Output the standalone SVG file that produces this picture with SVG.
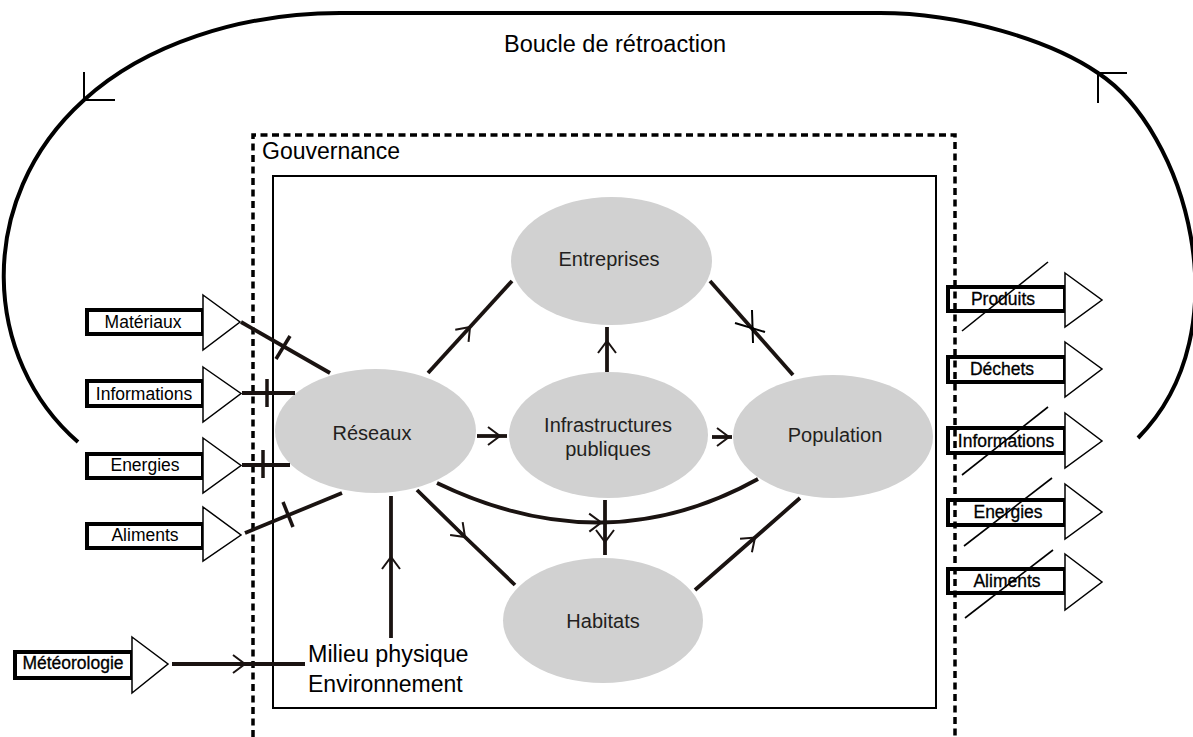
<svg xmlns="http://www.w3.org/2000/svg" width="1193" height="737" viewBox="0 0 1193 737">
<defs>
<style>
.lbl{font-family:"Liberation Sans",Arial,sans-serif;fill:#000}
.node ellipse{fill:#d1d1d1}
.node text{font-family:"Liberation Sans",Arial,sans-serif;font-size:20px;fill:#231f20;text-anchor:middle}
.box rect{fill:#fff;stroke:#000;stroke-width:4}
.box polygon{fill:#fff;stroke:#000;stroke-width:1.5}
.box text{font-family:"Liberation Sans",Arial,sans-serif;font-size:17.5px;fill:#000;text-anchor:middle}
.out text{stroke:#000;stroke-width:0.3}
.con{fill:none;stroke:#1a1311;stroke-width:3.8;stroke-linecap:butt}
.arr{marker-mid:url(#v)}
.tick{stroke:#1a1311;stroke-width:3.5;fill:none}
.slash{stroke:#000;stroke-width:1.6;fill:none}
.thin{stroke:#000;stroke-width:2;fill:none}
</style>
<marker id="v" markerUnits="userSpaceOnUse" viewBox="-16 -12 20 24" refX="0" refY="0" markerWidth="20" markerHeight="24" orient="auto">
<path d="M-12,-9 L0,0 L-12,9" fill="none" stroke="#1a1311" stroke-width="2"/>
</marker>
</defs>

<g id="feedback-loop">
<path d="M78,442 C-17,360 -27,200 84,100 C144,45 240,13 340,13 L880,13 C960,13 1050,40 1098,73 C1185,130 1245,330 1138,438" fill="none" stroke="#000" stroke-width="4"/>
<path class="thin" d="M84,72 L84,100 L115,100"/>
<path class="thin" d="M1127,73 L1098,73 L1098,103"/>
<text class="lbl" x="615" y="52" font-size="23.5" text-anchor="middle">Boucle de rétroaction</text>
</g>

<g id="inputs">
<g id="in-materiaux" class="box"><rect x="87" y="310" width="116" height="24"/><polygon points="203,295 240,322 203,350"/><text x="143" y="328">Matériaux</text></g>
<g id="in-informations" class="box"><rect x="87" y="381" width="116" height="25"/><polygon points="203,367 241,393.5 203,422"/><text x="144" y="400">Informations</text></g>
<g id="in-energies" class="box"><rect x="87" y="454" width="116" height="24"/><polygon points="203,438 241,465.5 203,493"/><text x="145" y="471">Energies</text></g>
<g id="in-aliments" class="box"><rect x="87" y="524" width="116" height="24"/><polygon points="203,507 241,535 203,561"/><text x="145" y="541">Aliments</text></g>
<g id="in-meteo" class="box out"><rect x="15" y="652" width="117" height="26"/><polygon points="132,637 168,664 132,693"/><text x="73" y="669">Météorologie</text></g>
</g>

<g id="outputs">
<g id="out-produits" class="box out"><rect x="948" y="287" width="117" height="24"/><polygon points="1065,273 1102,300 1065,327"/><text x="1003" y="305">Produits</text></g>
<g id="out-dechets" class="box out"><rect x="948" y="357" width="117" height="25"/><polygon points="1065,342 1102,369 1065,397"/><text x="1002" y="375">Déchets</text></g>
<g id="out-informations" class="box out"><rect x="948" y="428" width="117" height="25"/><polygon points="1065,413 1102,441 1065,468"/><text x="1006" y="447">Informations</text></g>
<g id="out-energies" class="box out"><rect x="948" y="500" width="117" height="25"/><polygon points="1065,484 1102,512 1065,539"/><text x="1008" y="518">Energies</text></g>
<g id="out-aliments" class="box out"><rect x="948" y="569" width="117" height="24"/><polygon points="1065,554 1102,582 1065,610"/><text x="1007" y="587">Aliments</text></g>
</g>

<g id="gouvernance">
<path d="M253,737 V135 H955 V737" fill="none" stroke="#000" stroke-width="3.5" stroke-dasharray="7 4.5"/>
<text class="lbl" x="262" y="159" font-size="23">Gouvernance</text>
</g>

<g id="systeme">
<rect x="273" y="176" width="663" height="532" fill="none" stroke="#000" stroke-width="2"/>
</g>

<g id="slashes">
<line class="slash" x1="1048" y1="262" x2="962" y2="331"/>
<line class="slash" x1="1048" y1="407" x2="962" y2="475"/>
<line class="slash" x1="1052" y1="478" x2="964" y2="546"/>
<line class="slash" x1="1053" y1="550" x2="965" y2="618"/>
</g>

<g id="node-entreprises" class="node"><ellipse cx="611.5" cy="261" rx="100.5" ry="64"/><text x="609" y="266">Entreprises</text></g>
<g id="node-reseaux" class="node"><ellipse cx="375.5" cy="431" rx="100.5" ry="62"/><text x="372" y="440">Réseaux</text></g>
<g id="node-infrastructures" class="node"><ellipse cx="608.5" cy="435" rx="99.5" ry="63"/><text x="608" y="432">Infrastructures</text><text x="608" y="456">publiques</text></g>
<g id="node-population" class="node"><ellipse cx="833" cy="436.5" rx="100" ry="61.5"/><text x="835" y="442">Population</text></g>
<g id="node-habitats" class="node"><ellipse cx="603" cy="620.5" rx="100" ry="62.5"/><text x="603" y="628">Habitats</text></g>
<g id="node-milieu"><text class="lbl" x="308" y="662" font-size="23.3">Milieu physique</text><text class="lbl" x="308" y="692" font-size="23">Environnement</text></g>

<g id="connectors">
<path class="con" d="M241,322 L330,373"/>
<line class="tick" x1="276" y1="359" x2="290" y2="336"/>
<path class="con" d="M242,393 L295,393"/>
<line class="tick" x1="267" y1="379" x2="267" y2="407"/>
<path class="con" d="M242,465 L290,465"/>
<line class="tick" x1="263" y1="450" x2="263" y2="478"/>
<path class="con" d="M245,533 L342,493"/>
<line class="tick" x1="283" y1="502" x2="293" y2="527"/>

<path class="con arr" d="M428,373 L470,327 L512,281"/>
<path class="con arr" d="M607,372 L607,341 L607,327"/>
<path class="con" d="M710,281 L793,375"/>
<line class="thin" x1="752" y1="310" x2="753" y2="343"/>
<line class="thin" x1="735" y1="323" x2="765" y2="332"/>
<path class="con arr" d="M477,436 L500,436 L507,436"/>
<path class="con arr" d="M712,437 L729,437 L732,437"/>
<path class="con arr" d="M437,483 Q521,523.5 601.25,522.5 Q681.5,521.5 758,479"/>
<path class="con arr" d="M605,500 L605,542 L605,555"/>
<path class="con arr" d="M417,490 L465,537 L515,585"/>
<path class="con arr" d="M695,590 L755,537.5 L800,498"/>
<path class="con arr" d="M391,638 L391,557 L391,496"/>
<path class="con arr" d="M172,664 L245,664 L305,664"/>
</g>
</svg>
